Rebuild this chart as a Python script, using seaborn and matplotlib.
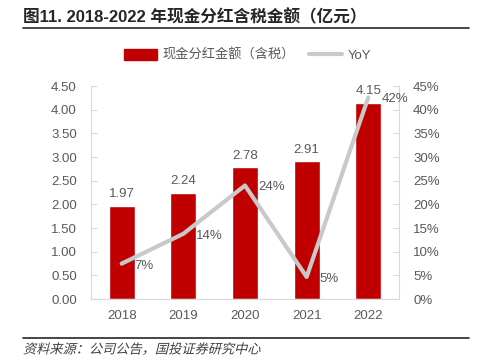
import numpy as np
import pandas as pd
import matplotlib
matplotlib.use("Agg")
import matplotlib.pyplot as plt
import seaborn as sns
from matplotlib.lines import Line2D
from matplotlib.patches import Patch
from matplotlib.patheffects import AbstractPathEffect
from matplotlib.transforms import Affine2D

sns.set_style("white")
plt.rcParams['font.family'] = ['Liberation Sans', 'Noto Sans CJK SC', 'DejaVu Sans']

years = ["2018", "2019", "2020", "2021", "2022"]
dividend = [1.97, 2.24, 2.78, 2.91, 4.15]
yoy = [7.5, 13.8, 24.0, 4.7, 42.6]
yoy_labels = ["7%", "14%", "24%", "5%", "42%"]

df = pd.DataFrame({"year": years, "dividend": dividend, "yoy": yoy})

red = "#C00000"
grey = "#C9C9C9"
txt = "#595959"
spine = "#D9D9D9"


class Slant(AbstractPathEffect):
    # fake italic for CJK glyphs
    def draw_path(self, renderer, gc, tpath, affine, rgbFace=None):
        renderer.draw_path(gc, tpath, Affine2D().skew_deg(14, 0) + affine, rgbFace)


fig = plt.figure(figsize=(4.78, 3.6), dpi=100)
ax = fig.add_axes([0.190, 0.169, 0.645, 0.592])

sns.barplot(data=df, x="year", y="dividend", color=red, width=0.42, ax=ax, saturation=1)
ax.set_ylim(0, 4.5)
ax.set_yticks(np.arange(0, 4.51, 0.5))
ax.set_yticklabels([f"{v:.2f}" for v in np.arange(0, 4.51, 0.5)])
ax.set_xlim(-0.5, 4.5)
ax.set_xlabel("")
ax.set_ylabel("")
for i, v in enumerate(dividend):
    ax.text(i, v + 0.12, f"{v:.2f}", ha="center", va="bottom", fontsize=9.5, color=txt)

ax2 = ax.twinx()
sns.lineplot(x=np.arange(len(years)), y=yoy, color=grey, linewidth=3, ax=ax2)
ax2.set_ylim(0, 45)
ax2.set_yticks(np.arange(0, 46, 5))
ax2.set_yticklabels([f"{v}%" for v in range(0, 46, 5)])
for i, (v, lab) in enumerate(zip(yoy, yoy_labels)):
    ax2.text(i + 0.21, v - 0.4, lab, ha="left", va="center", fontsize=9.5, color=txt)

for a in (ax, ax2):
    for s in a.spines.values():
        s.set_visible(False)
    a.tick_params(axis="both", labelsize=9.5, labelcolor=txt, color=spine, length=4, width=0.8)
    a.grid(False)
ax.spines["left"].set_visible(True)
ax.spines["left"].set_color(spine)
ax.spines["bottom"].set_visible(True)
ax.spines["bottom"].set_color(spine)
ax2.spines["right"].set_visible(True)
ax2.spines["right"].set_color(spine)
ax.set_xticks(np.arange(len(years)))
ax.set_xticklabels(years)
ax.tick_params(axis="x", length=0, pad=8)
ax.set_xticks(np.arange(-0.5, 5, 1), minor=True)
ax.tick_params(axis="x", which="minor", length=4, color=spine, direction="in")
ax.tick_params(axis="y", left=True, direction="in", pad=10)
ax2.tick_params(axis="y", right=True, direction="in", pad=10)

handles = [Patch(color=red), Line2D([0], [0], color=grey, lw=3)]
fig.legend(handles, ["现金分红金额（含税）", "YoY"], loc="center", bbox_to_anchor=(0.518, 0.847),
           ncol=2, frameon=False, fontsize=9.5, handlelength=2.5, handleheight=0.9,
           columnspacing=1.1, handletextpad=0.4, labelcolor=txt)

fig.text(0.048, 0.953, "图11. 2018-2022 年现金分红含税金额（亿元）", fontsize=12, fontweight="bold",
         color="#262626", va="center", family=['Liberation Sans', 'Noto Sans CJK SC'])
fig.add_artist(Line2D([0.048, 0.982], [0.922, 0.922], color="#262626", lw=1.2))
fig.add_artist(Line2D([0.048, 0.982], [0.061, 0.061], color="#262626", lw=1.2))
fig.text(0.048, 0.028, "资料来源：公司公告，国投证券研究中心", fontsize=9.5,
         color="#404040", va="center", family=['Noto Sans CJK SC'], path_effects=[Slant()])

fig.savefig("out.png", dpi=100)
